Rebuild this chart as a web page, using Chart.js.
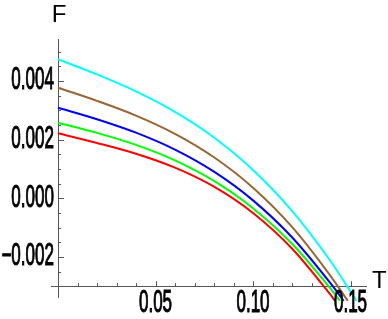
<!DOCTYPE html>
<html>
<head>
<meta charset="utf-8">
<script src="https://cdn.jsdelivr.net/npm/chart.js@4.4.1/dist/chart.umd.min.js"></script>
<style>
  html, body { margin: 0; padding: 0; background: #fff; }
  canvas { display: block; }
</style>
</head>
<body>
<canvas id="fChart" width="388" height="319"></canvas>
<script>
// values (T on x, F on y)
const cyanT = [0, 0.02, 0.04, 0.06, 0.08, 0.10, 0.12, 0.14, 0.1531];
const cyanF = [0.004735, 0.004219, 0.003640, 0.002941, 0.002068, 0.000963, -0.000430, -0.002168, -0.0035];

const brownT = [0, 0.02, 0.04, 0.06, 0.08, 0.10, 0.12, 0.14, 0.1486];
const brownF = [0.003767, 0.003319, 0.002815, 0.002193, 0.001394, 0.000357, -0.000978, -0.002672, -0.0035];

const blueT = [0, 0.02, 0.04, 0.06, 0.08, 0.10, 0.12, 0.14, 0.1465];
const blueF = [0.003085, 0.002692, 0.002233, 0.001655, 0.000903, -0.000075, -0.001333, -0.002925, -0.0035];

const greenT = [0, 0.02, 0.04, 0.06, 0.08, 0.10, 0.12, 0.14, 0.1446];
const greenF = [0.002574, 0.002226, 0.001816, 0.001288, 0.000587, -0.000342, -0.001554, -0.003104, -0.0035];

const redT = [0, 0.02, 0.04, 0.06, 0.08, 0.10, 0.12, 0.14, 0.1421];
const redF = [0.002213, 0.001882, 0.001514, 0.001040, 0.000392, -0.000505, -0.001716, -0.003317, -0.0035];

// ticks
const xMajorTicks = [0.05, 0.10, 0.15];
const xMajorLabels = ["0.05", "0.10", "0.15"];
const xMinorTicks = [0.01, 0.02, 0.03, 0.04, 0.06, 0.07, 0.08, 0.09, 0.11, 0.12, 0.13, 0.14];
const yMajorTicks = [-0.002, 0.000, 0.002, 0.004];
const yMajorLabels = ["\u22120.002", "0.000", "0.002", "0.004"];
const yMinorTicks = [-0.0025, -0.0015, -0.001, -0.0005, 0.0005, 0.001, 0.0015, 0.0025, 0.003, 0.0035, 0.0045, 0.005];

const xAxisAtF = -0.003;   // where the T axis crosses
const yAxisAtT = 0;        // where the F axis crosses
const yAxisLowEnd = -0.0034;

const toPoints = (ts, fs) => ts.map((t, i) => ({ x: t, y: fs[i] }));

const makeSet = (ts, fs, color) => ({
  data: toPoints(ts, fs),
  borderColor: color,
  borderWidth: 2,
  pointRadius: 0,
  fill: false,
  cubicInterpolationMode: "monotone",
});

const axesPlugin = {
  id: "mmaAxes",
  beforeDatasetsDraw(chart) {
    const { ctx, chartArea, scales } = chart;
    const xs = scales.x, ys = scales.y;
    const axY = ys.getPixelForValue(xAxisAtF);
    const axX = xs.getPixelForValue(yAxisAtT);
    ctx.save();
    ctx.strokeStyle = "#555";
    ctx.lineWidth = 1;
    ctx.beginPath();
    // T axis
    ctx.moveTo(chartArea.left, Math.round(axY) + 0.5);
    ctx.lineTo(chartArea.right, Math.round(axY) + 0.5);
    // F axis
    ctx.moveTo(Math.round(axX) + 0.5, chartArea.top);
    ctx.lineTo(Math.round(axX) + 0.5, ys.getPixelForValue(yAxisLowEnd));
    // ticks on T axis, pointing up
    xMajorTicks.forEach(v => {
      const p = Math.round(xs.getPixelForValue(v)) + 0.5;
      ctx.moveTo(p, axY); ctx.lineTo(p, axY - 5);
    });
    xMinorTicks.forEach(v => {
      const p = Math.round(xs.getPixelForValue(v)) + 0.5;
      ctx.moveTo(p, axY); ctx.lineTo(p, axY - 3);
    });
    // ticks on F axis, pointing right
    yMajorTicks.forEach(v => {
      const p = Math.round(ys.getPixelForValue(v)) + 0.5;
      ctx.moveTo(axX, p); ctx.lineTo(axX + 6, p);
    });
    yMinorTicks.forEach(v => {
      const p = Math.round(ys.getPixelForValue(v)) + 0.5;
      ctx.moveTo(axX, p); ctx.lineTo(axX + 3, p);
    });
    ctx.stroke();
    ctx.restore();
  },
  afterDraw(chart) {
    const { ctx, scales } = chart;
    const xs = scales.x, ys = scales.y;
    const axY = ys.getPixelForValue(xAxisAtF);
    const axX = xs.getPixelForValue(yAxisAtT);
    ctx.save();
    ctx.fillStyle = "#000";
    ctx.strokeStyle = "#000";
    ctx.lineWidth = 1.1;
    ctx.font = "31px 'Liberation Sans', Arial, sans-serif";
    // narrow, heavy number labels
    const squeeze = 0.55;
    const drawLabel = (text, x, y) => {
      ctx.save();
      ctx.translate(x, y);
      ctx.scale(squeeze, 1);
      ctx.fillText(text, 0, 0);
      ctx.strokeText(text, 0, 0);
      ctx.restore();
    };
    ctx.textBaseline = "middle";
    ctx.textAlign = "right";
    yMajorTicks.forEach((v, i) => drawLabel(yMajorLabels[i], axX - 4, ys.getPixelForValue(v)));
    ctx.textBaseline = "alphabetic";
    ctx.textAlign = "center";
    xMajorTicks.forEach((v, i) => drawLabel(xMajorLabels[i], xs.getPixelForValue(v), axY + 26));
    // axis names
    ctx.font = "24px 'Liberation Sans', Arial, sans-serif";
    ctx.textAlign = "center";
    ctx.fillText("F", axX + 1, 22);
    ctx.textAlign = "left";
    ctx.fillText("T", 372, axY + 2);
    ctx.restore();
  },
};

const ctx = document.querySelector("#fChart").getContext("2d");
const fChart = new Chart(ctx, {
  type: "line",
  data: {
    datasets: [
      makeSet(cyanT, cyanF, "#00ffff"),
      makeSet(brownT, brownF, "#996633"),
      makeSet(blueT, blueF, "#0000ff"),
      makeSet(greenT, greenF, "#00ff00"),
      makeSet(redT, redF, "#ff0000"),
    ],
  },
  options: {
    responsive: false,
    animation: false,
    layout: { padding: { left: 51, right: 21, top: 39, bottom: 18 } },
    plugins: { legend: { display: false }, tooltip: { enabled: false } },
    scales: {
      x: { type: "linear", display: false, min: -0.00359, max: 0.15846 },
      y: { type: "linear", display: false, min: -0.003505, max: 0.005427 },
    },
  },
  plugins: [axesPlugin],
});
</script>
</body>
</html>
